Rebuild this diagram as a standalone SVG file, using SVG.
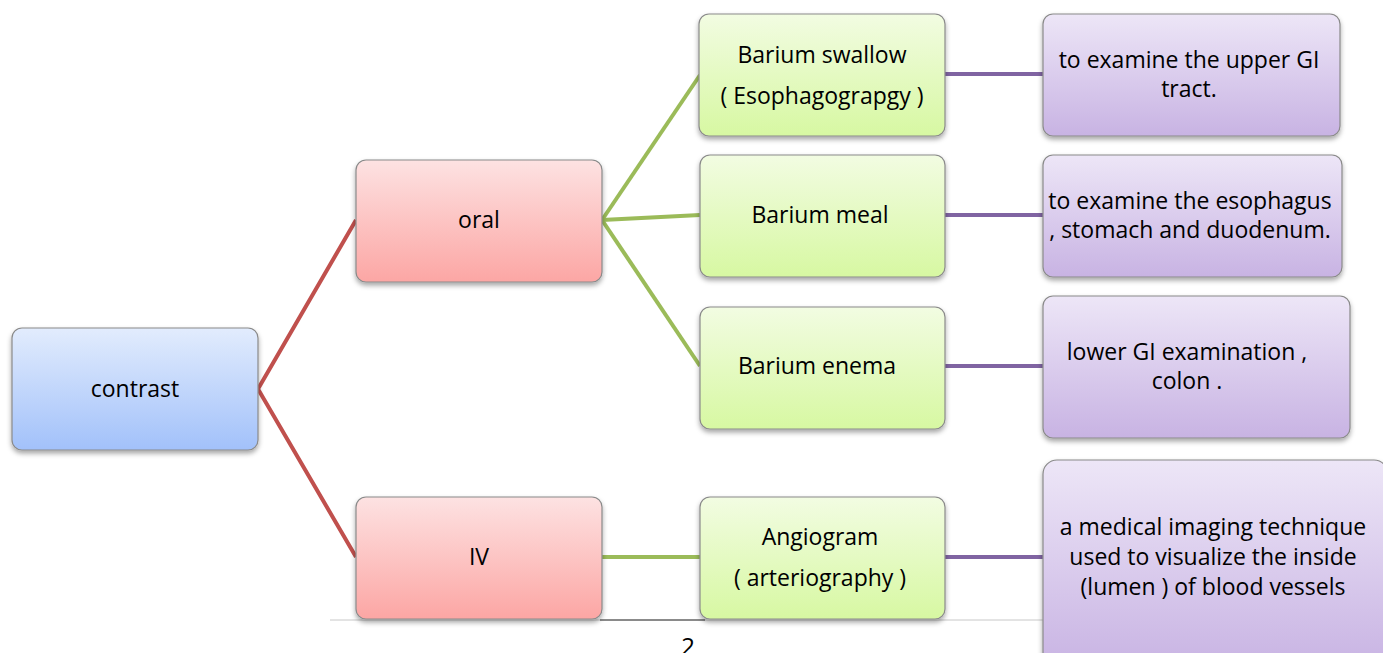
<svg xmlns="http://www.w3.org/2000/svg" width="1383" height="653" viewBox="0 0 1383 653">
<defs>
<linearGradient id="gBlue" x1="0" y1="0" x2="0" y2="1"><stop offset="0" stop-color="#e2ecfd"/><stop offset="1" stop-color="#a2c1fa"/></linearGradient>
<linearGradient id="gPink" x1="0" y1="0" x2="0" y2="1"><stop offset="0" stop-color="#fde2e2"/><stop offset="1" stop-color="#fca6a4"/></linearGradient>
<linearGradient id="gGreen" x1="0" y1="0" x2="0" y2="1"><stop offset="0" stop-color="#f2fce2"/><stop offset="1" stop-color="#d7f8a2"/></linearGradient>
<linearGradient id="gPurple" x1="0" y1="0" x2="0" y2="1"><stop offset="0" stop-color="#ede6f7"/><stop offset="1" stop-color="#c8b3e3"/></linearGradient>
<filter id="sh" x="-10%" y="-10%" width="120%" height="130%"><feDropShadow dx="0" dy="3" stdDeviation="2.5" flood-color="#000" flood-opacity="0.35"/></filter>
</defs>
<style>
rect.n{stroke:#8a8a8a;stroke-width:1.2;filter:url(#sh)}
.blue{fill:url(#gBlue)}
.pink{fill:url(#gPink)}
.green{fill:url(#gGreen)}
.purple{fill:url(#gPurple)}
text{font-family:"Open Sans","Liberation Sans",sans-serif;font-size:23px;fill:#000;text-anchor:middle;dominant-baseline:central}
.red{stroke:#c0504d;stroke-width:4;fill:none}
.grn{stroke:#9bbb59;stroke-width:4;fill:none}
.pur{stroke:#8064a2;stroke-width:4;fill:none}
</style>
<g id="footer">
<line x1="330" y1="620" x2="1043" y2="620" stroke="#c8c8c8" stroke-width="1"/>
<line x1="600" y1="620" x2="705" y2="620" stroke="#333" stroke-width="1"/>
<text x="688" y="645" style="font-size:24px">2</text>
</g>
<g id="connectors">
<polyline class="red" points="356,220 258,389 356,557"/>
<line class="grn" x1="602" y1="220" x2="700" y2="75"/>
<line class="grn" x1="602" y1="220" x2="700" y2="215"/>
<line class="grn" x1="602" y1="220" x2="700" y2="366"/>
<line class="grn" x1="602" y1="557" x2="700" y2="557"/>
<line class="pur" x1="945" y1="74" x2="1043" y2="74"/>
<line class="pur" x1="945" y1="215" x2="1043" y2="215"/>
<line class="pur" x1="945" y1="366" x2="1043" y2="366"/>
<line class="pur" x1="945" y1="557" x2="1043" y2="557"/>
</g>
<g id="contrast"><rect class="n blue" x="12" y="328" width="246" height="122" rx="10"/><text x="135" y="388">contrast</text></g>
<g id="oral"><rect class="n pink" x="356" y="160" width="246" height="122" rx="10"/><text x="479" y="219">oral</text></g>
<g id="iv"><rect class="n pink" x="356" y="497" width="246" height="122" rx="10"/><text x="479" y="556">IV</text></g>
<g id="swallow"><rect class="n green" x="699" y="14" width="246" height="122" rx="10"/><text x="822" y="54">Barium swallow</text><text x="822" y="95">( Esophagograpgy )</text></g>
<g id="meal"><rect class="n green" x="700" y="155" width="245" height="122" rx="10"/><text x="820" y="214">Barium meal</text></g>
<g id="enema"><rect class="n green" x="700" y="307" width="245" height="122" rx="10"/><text x="817" y="365">Barium enema</text></g>
<g id="angiogram"><rect class="n green" x="700" y="497" width="245" height="122" rx="10"/><text x="820" y="536">Angiogram</text><text x="820" y="577">( arteriography )</text></g>
<g id="d1"><rect class="n purple" x="1043" y="14" width="297" height="122" rx="10"/><text x="1189" y="59">to examine the upper GI</text><text x="1189" y="88">tract.</text></g>
<g id="d2"><rect class="n purple" x="1043" y="155" width="299" height="122" rx="10"/><text x="1190" y="200">to examine the esophagus</text><text x="1190" y="229">, stomach and duodenum.</text></g>
<g id="d3"><rect class="n purple" x="1043" y="296" width="307" height="142" rx="10"/><text x="1187" y="351">lower GI examination ,</text><text x="1187" y="380">colon .</text></g>
<g id="d4"><rect class="n purple" x="1043" y="460" width="345" height="210" rx="14"/><text x="1213" y="526">a medical imaging technique</text><text x="1213" y="556">used to visualize the inside</text><text x="1213" y="586">(lumen ) of blood vessels</text></g>
</svg>
